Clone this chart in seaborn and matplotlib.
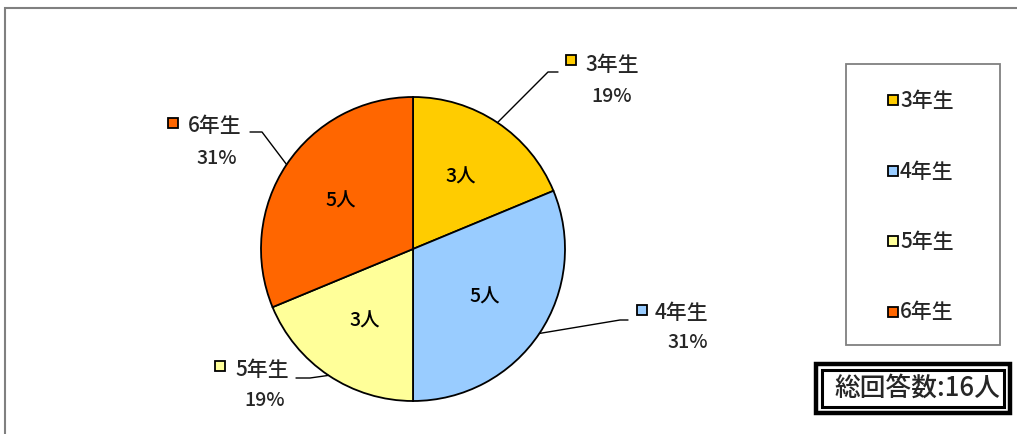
import matplotlib
matplotlib.use('Agg')
import matplotlib.pyplot as plt
from matplotlib.patches import Rectangle
import numpy as np
import seaborn as sns

sns.set_theme(style='white')
plt.rcParams['font.family'] = ['Noto Sans CJK JP', 'DejaVu Sans']
plt.rcParams['font.weight'] = 'medium'

# data
grades = ['3年生', '4年生', '5年生', '6年生']
counts = [3, 5, 3, 5]
colors = ['#FFCC00', '#99CCFF', '#FFFF99', '#FF6600']
total_label = '総回答数:16人'

W, H = 1017, 434
fig = plt.figure(figsize=(W / 100, H / 100), dpi=100)
ax = fig.add_axes([0, 0, 1, 1])


def Y(y):
    # pixel row (top down) -> axes y (bottom up)
    return H - y


cx, cy, r = 413, Y(249), 152
total = sum(counts)
wedges, texts, autotexts = ax.pie(
    counts, colors=colors, startangle=90, counterclock=False,
    center=(cx, cy), radius=r,
    wedgeprops=dict(edgecolor='black', linewidth=1.3),
    autopct=lambda p: f'{round(p * total / 100)}人', pctdistance=0.57,
    textprops=dict(fontsize=14, color='black'))
ax.set_xlim(0, W)
ax.set_ylim(0, H)
ax.set_aspect('auto')
ax.axis('off')

# outer labels: (marker centre, text left, pct centre, elbow)
layout = [
    dict(mk=(571, 60), tx=(585, 65), pc=(612, 96), elbow=[(548, 72), (558, 72)]),
    dict(mk=(642, 310), tx=(655, 313), pc=(688, 343), elbow=[(620, 320), (628, 320)]),
    dict(mk=(220, 366), tx=(235, 370), pc=(265, 401), elbow=[(310, 378), (296, 378)]),
    dict(mk=(173, 123), tx=(188, 126), pc=(217, 158), elbow=[(262, 132), (250, 132)]),
]
for w, g, c, n, lay in zip(wedges, grades, colors, counts, layout):
    mid = np.deg2rad((w.theta1 + w.theta2) / 2)
    ex, ey = cx + r * np.cos(mid), cy + r * np.sin(mid)
    xs = [ex] + [p[0] for p in lay['elbow']]
    ys = [ey] + [Y(p[1]) for p in lay['elbow']]
    ax.plot(xs, ys, color='black', lw=1.0)
    mx, my = lay['mk']
    ax.add_patch(Rectangle((mx - 5, Y(my) - 5), 10, 10, facecolor=c,
                           edgecolor='black', lw=1.3))
    ax.text(lay['tx'][0], Y(lay['tx'][1]), g, fontsize=15, ha='left', va='center')
    ax.text(lay['pc'][0], Y(lay['pc'][1]), f'{100 * n / total:.0f}%',
            fontsize=14, ha='center', va='center')

# legend box
ax.add_patch(Rectangle((846, Y(345)), 154, 281, facecolor='none',
                       edgecolor='#808080', lw=1.3))
for i, (g, c) in enumerate(zip(grades, colors)):
    yy = Y(100 + i * 70.5)
    ax.add_patch(Rectangle((888, yy - 5), 10, 10, facecolor=c,
                           edgecolor='black', lw=1.3))
    ax.text(900, yy - 1, g, fontsize=15, ha='left', va='center')

# total box (double border)
ax.add_patch(Rectangle((816, Y(413)), 194, 49, facecolor='white',
                       edgecolor='black', lw=3.2))
ax.add_patch(Rectangle((822, Y(407)), 182, 37, facecolor='none',
                       edgecolor='black', lw=2.2))
ax.text(917, Y(388), total_label, fontsize=18.5, ha='center', va='center')

# chart frame
ax.add_patch(Rectangle((5, Y(440)), 1020, 440 - 8, facecolor='none',
                       edgecolor='#808080', lw=1.5, clip_on=False))

fig.savefig('out.png', dpi=100)
